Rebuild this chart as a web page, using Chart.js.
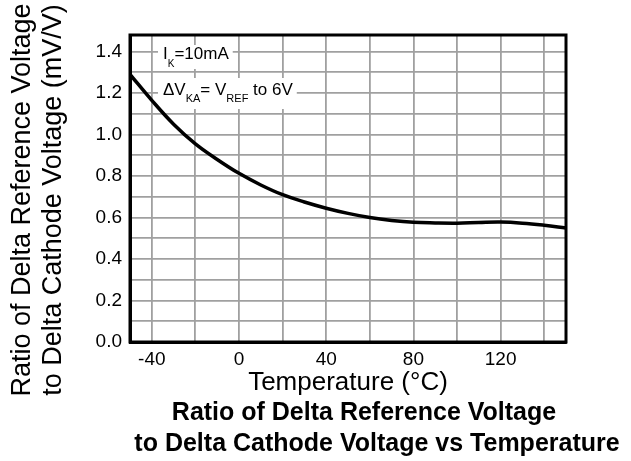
<!DOCTYPE html>
<html>
<head>
<meta charset="utf-8">
<script src="https://cdn.jsdelivr.net/npm/chart.js@4/dist/chart.umd.min.js"></script>
<style>
  html, body { margin: 0; padding: 0; background: #fff; }
  #wrap { width: 631px; height: 461px; }
</style>
</head>
<body>
<div id="wrap"><canvas id="myChart" width="631" height="461"></canvas></div>
<script>
// temperature (°C) and the read-off ratio (mV/V)
const temps = [-50, -40, -30, -20, -10, 0, 10, 20, 30, 40, 50, 60, 70, 80, 90, 100, 110, 120, 130, 140, 150];
const ratio = [1.29, 1.165, 1.05, 0.955, 0.88, 0.813, 0.757, 0.71, 0.675, 0.645, 0.62, 0.6, 0.586, 0.577, 0.574, 0.573, 0.576, 0.578, 0.573, 0.563, 0.55];

// grid lines and which of them get a label
const xGrid = [-50, -40, -20, 0, 20, 40, 60, 80, 100, 120, 140, 150];
const xLabels = [-40, 0, 40, 80, 120];
const yGrid = [0, 0.1, 0.2, 0.3, 0.4, 0.5, 0.6, 0.7, 0.8, 0.9, 1.0, 1.1, 1.2, 1.3, 1.4];
const yLabels = [0, 0.2, 0.4, 0.6, 0.8, 1.0, 1.2, 1.4];

const yTitle = ['Ratio of Delta Reference Voltage', 'to Delta Cathode Voltage (mV/V)'];
const xTitle = 'Temperature (\u00B0C)';
const mainTitle = ['Ratio of Delta Reference Voltage', 'to Delta Cathode Voltage vs Temperature'];

const FONT = "'Liberation Sans', Arial, sans-serif";

// the two condition notes: [text, font size, baseline shift]
const note1 = [['I', 17, 0], ['K', 10, 8], ['=10mA', 17, 0]];
const note2 = [['\u0394V', 17, 0], ['KA', 11, 7], ['= V', 17, 0], ['REF', 11, 7], [' to 6V', 17, 0]];

function runWidth(ctx, parts) {
  let w = 0;
  parts.forEach(p => { ctx.font = p[1] + 'px ' + FONT; w += ctx.measureText(p[0]).width; });
  return w;
}

const notes = {
  id: 'notes',
  // white patches go under the curve, the text over it
  beforeDatasetsDraw(chart) {
    const ctx = chart.ctx, a = chart.chartArea;
    ctx.save();
    ctx.fillStyle = '#fff';
    ctx.fillRect(a.left + 28, a.top + 10, runWidth(ctx, note1) + 9, 24);
    ctx.fillRect(a.left + 28, a.top + 43, runWidth(ctx, note2) + 9, 31);
    ctx.restore();
  },
  afterDatasetsDraw(chart) {
    const ctx = chart.ctx, a = chart.chartArea;
    ctx.save();
    ctx.fillStyle = '#000';
    ctx.textBaseline = 'alphabetic';
    function run(parts, x, y) {
      let cx = x;
      parts.forEach(p => {
        ctx.font = p[1] + 'px ' + FONT;
        ctx.fillText(p[0], cx, y + p[2]);
        cx += ctx.measureText(p[0]).width;
      });
    }
    run(note1, a.left + 33, a.top + 24);
    run(note2, a.left + 33, a.top + 60);
    ctx.restore();
  }
};

// rotated y title, x title and the bold caption under the chart
const titles = {
  id: 'titles',
  afterDraw(chart) {
    const ctx = chart.ctx, a = chart.chartArea;
    ctx.save();
    ctx.fillStyle = '#000';
    ctx.textAlign = 'center';
    ctx.textBaseline = 'middle';
    ctx.font = '27px ' + FONT;
    ctx.translate(0, 200);
    ctx.rotate(-Math.PI / 2);
    ctx.fillText(yTitle[0], 0, 23);
    ctx.fillText(yTitle[1], 0, 54);
    ctx.restore();

    ctx.save();
    ctx.fillStyle = '#000';
    ctx.textAlign = 'center';
    ctx.textBaseline = 'alphabetic';
    ctx.font = '26px ' + FONT;
    ctx.fillText(xTitle, (a.left + a.right) / 2, 390);
    ctx.textBaseline = 'middle';
    ctx.font = 'bold 25px ' + FONT;
    ctx.fillText(mainTitle[0], 364, 413);
    ctx.fillText(mainTitle[1], 377, 444);
    ctx.restore();
  }
};

const data = {
  datasets: [{
    label: 'Ratio',
    data: temps.map((t, i) => ({ x: t, y: ratio[i] })),
    borderColor: '#000',
    borderWidth: 3.5,
    pointRadius: 0,
    tension: 0.4,
    fill: false
  }]
};

const config = {
  type: 'line',
  data: data,
  options: {
    responsive: false,
    animation: false,
    layout: { padding: { left: 0, right: 65, top: 35, bottom: 0 } },
    plugins: {
      legend: { display: false },
      tooltip: { enabled: false },
      title: { display: false }
    },
    scales: {
      x: {
        type: 'linear',
        min: -50,
        max: 150,
        afterBuildTicks: axis => { axis.ticks = xGrid.map(v => ({ value: v })); },
        afterFit: axis => { axis.height = 119; },
        ticks: {
          autoSkip: false,
          maxRotation: 0,
          color: '#000',
          font: { family: FONT, size: 19 },
          padding: 6,
          callback: v => xLabels.includes(v) ? String(v) : ''
        },
        grid: { color: '#a0a0a0', lineWidth: 1.8, drawTicks: false },
        border: { color: '#000', width: 3 },
        title: { display: false }
      },
      y: {
        min: 0,
        max: 1.48,
        afterBuildTicks: axis => { axis.ticks = yGrid.map(v => ({ value: v })); },
        afterFit: axis => { axis.width = 130; },
        ticks: {
          autoSkip: false,
          color: '#000',
          font: { family: FONT, size: 19 },
          padding: 8,
          callback: v => yLabels.some(l => Math.abs(l - v) < 1e-6) ? v.toFixed(1) : ''
        },
        grid: { color: '#a0a0a0', lineWidth: 1.8, drawTicks: false },
        border: { color: '#000', width: 3 },
        title: { display: false }
      }
    }
  },
  plugins: [notes, titles, {
    id: 'frame',
    afterDraw(chart) {
      const a = chart.chartArea, ctx = chart.ctx;
      ctx.save();
      ctx.strokeStyle = '#000';
      ctx.lineWidth = 3;
      ctx.strokeRect(a.left, a.top, a.right - a.left, a.bottom - a.top);
      ctx.restore();
    }
  }]
};

const myChart = new Chart(document.getElementById('myChart'), config);
</script>
</body>
</html>
